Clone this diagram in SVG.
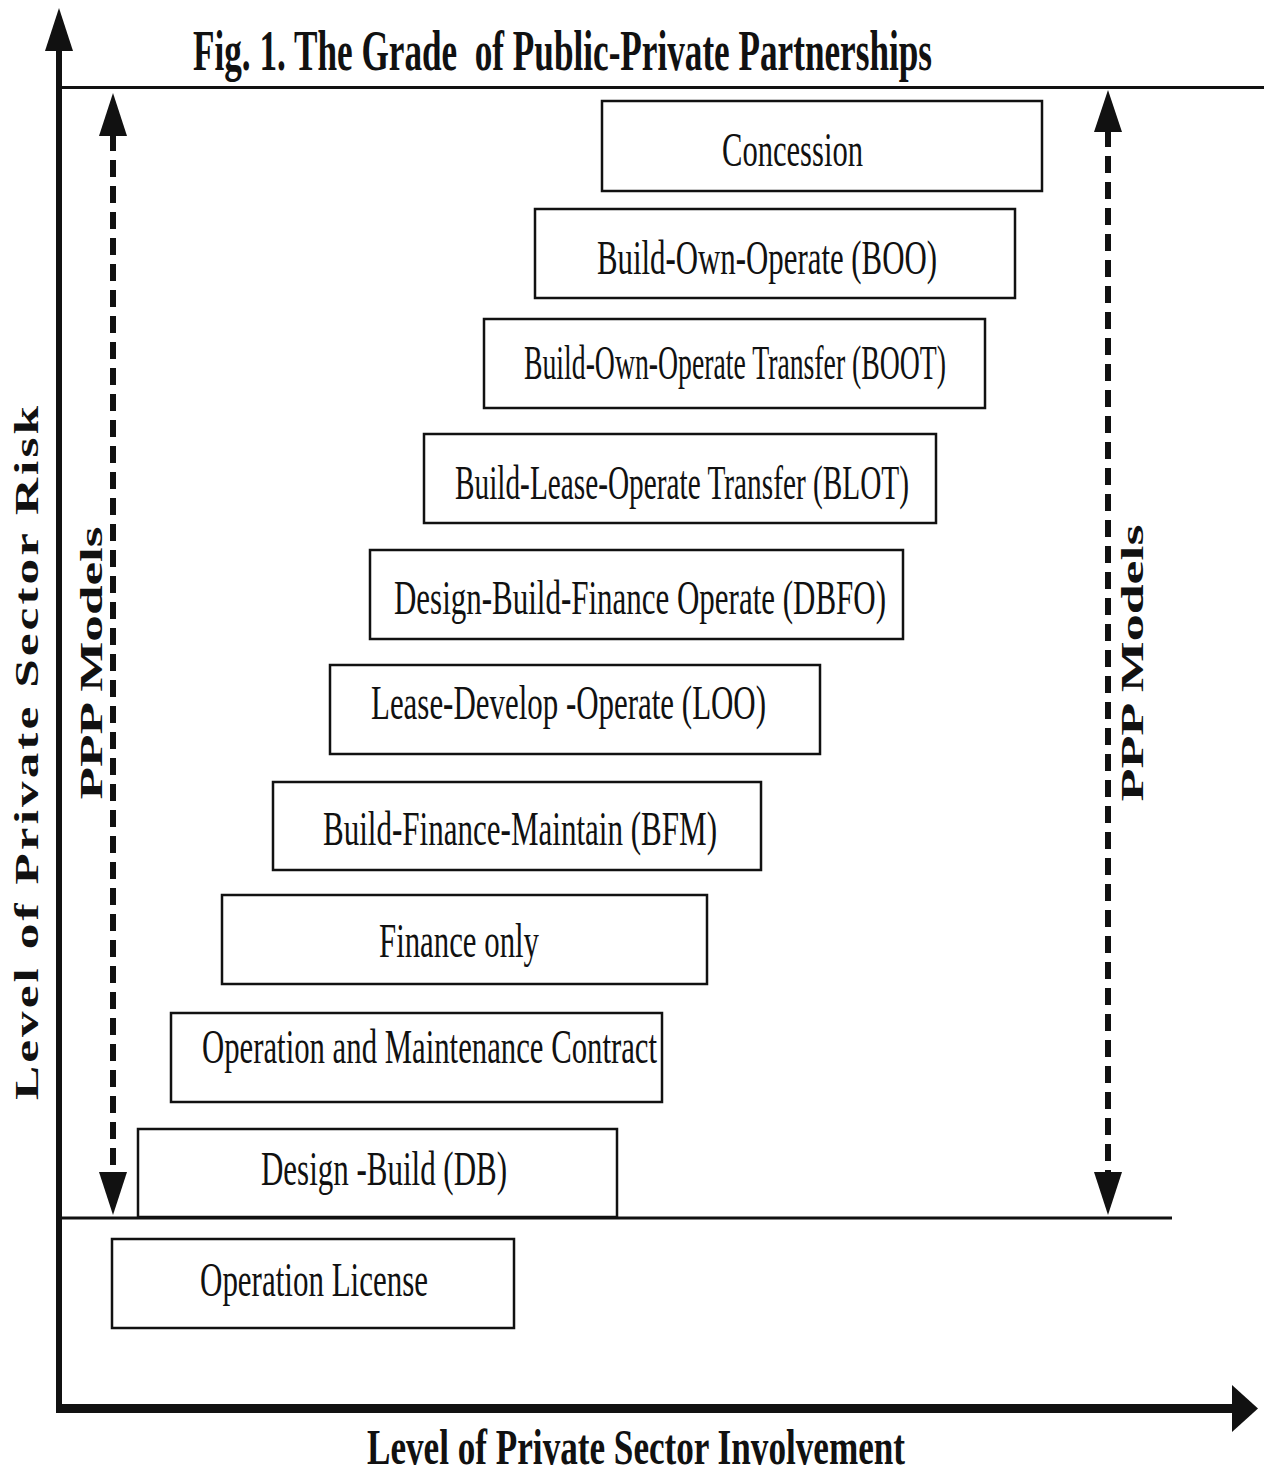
<svg xmlns="http://www.w3.org/2000/svg" width="1264" height="1475" viewBox="0 0 1264 1475">
  <style>
    .box { fill: #ffffff; stroke: #111111; stroke-width: 2.5; }
    .lbl { font-family: "Liberation Serif", "Times New Roman", serif; font-size: 48px; fill: #111111; }
    .bold { font-family: "Liberation Serif", "Times New Roman", serif; font-weight: bold; fill: #111111; }
    .axis { stroke: #111111; fill: none; }
    .dash { stroke: #111111; stroke-width: 6; stroke-dasharray: 17 9; fill: none; }
    .head { fill: #111111; }
  </style>
  <rect x="0" y="0" width="1264" height="1475" fill="#ffffff"/>

  <g id="connectors">
    <!-- Y axis -->
    <line class="axis" x1="59" y1="48" x2="59" y2="1413" stroke-width="6"/>
    <polygon class="head" points="59,8 45,51 73,51"/>
    <!-- X axis -->
    <line class="axis" x1="56" y1="1408.5" x2="1236" y2="1408.5" stroke-width="9"/>
    <polygon class="head" points="1258,1408.5 1232,1385 1232,1432"/>
    <!-- top and bottom boundary lines -->
    <line class="axis" x1="62" y1="87.5" x2="1264" y2="87.5" stroke-width="3"/>
    <line class="axis" x1="62" y1="1218" x2="1172" y2="1218" stroke-width="3"/>
    <!-- left dashed double arrow -->
    <line class="dash" x1="113" y1="134" x2="113" y2="1174"/>
    <polygon class="head" points="113,93 99,136 127,136"/>
    <polygon class="head" points="113,1215 99,1172 127,1172"/>
    <!-- right dashed double arrow -->
    <line class="dash" x1="1108" y1="130" x2="1108" y2="1174"/>
    <polygon class="head" points="1108,90 1094,132 1122,132"/>
    <polygon class="head" points="1108,1215 1094,1172 1122,1172"/>
  </g>

  <g id="title">
    <text class="bold" x="193" y="70" font-size="57" textLength="739" lengthAdjust="spacingAndGlyphs" style="white-space:pre">Fig. 1. The Grade  of Public-Private Partnerships</text>
  </g>

  <g id="y-axis-label">
    <text class="bold" font-size="33" text-anchor="middle" transform="translate(38,751.5) rotate(-90)" textLength="697" lengthAdjust="spacingAndGlyphs" letter-spacing="2">Level of Private Sector Risk</text>
  </g>
  <g id="x-axis-label">
    <text class="bold" x="367" y="1464" font-size="50" textLength="538" lengthAdjust="spacingAndGlyphs">Level of Private Sector Involvement</text>
  </g>
  <g id="ppp-left">
    <text class="bold" font-size="32" text-anchor="middle" transform="translate(102,663) rotate(-90)" textLength="273" lengthAdjust="spacingAndGlyphs">PPP Models</text>
  </g>
  <g id="ppp-right">
    <text class="bold" font-size="32" text-anchor="middle" transform="translate(1143,663) rotate(-90)" textLength="277" lengthAdjust="spacingAndGlyphs">PPP Models</text>
  </g>

  <g id="node-concession">
    <rect class="box" x="602" y="101" width="440" height="90"/>
    <text class="lbl" x="722" y="166" textLength="141" lengthAdjust="spacingAndGlyphs">Concession</text>
  </g>
  <g id="node-boo">
    <rect class="box" x="535" y="209" width="480" height="89"/>
    <text class="lbl" x="597" y="274" textLength="340" lengthAdjust="spacingAndGlyphs">Build-Own-Operate (BOO)</text>
  </g>
  <g id="node-boot">
    <rect class="box" x="484" y="319" width="501" height="89"/>
    <text class="lbl" x="524" y="379" textLength="422" lengthAdjust="spacingAndGlyphs">Build-Own-Operate Transfer (BOOT)</text>
  </g>
  <g id="node-blot">
    <rect class="box" x="424" y="434" width="512" height="89"/>
    <text class="lbl" x="455" y="499" textLength="454" lengthAdjust="spacingAndGlyphs">Build-Lease-Operate Transfer (BLOT)</text>
  </g>
  <g id="node-dbfo">
    <rect class="box" x="370" y="550" width="533" height="89"/>
    <text class="lbl" x="394" y="614" textLength="492" lengthAdjust="spacingAndGlyphs">Design-Build-Finance Operate (DBFO)</text>
  </g>
  <g id="node-loo">
    <rect class="box" x="330" y="665" width="490" height="89"/>
    <text class="lbl" x="371" y="719" textLength="395" lengthAdjust="spacingAndGlyphs">Lease-Develop -Operate (LOO)</text>
  </g>
  <g id="node-bfm">
    <rect class="box" x="273" y="782" width="488" height="88"/>
    <text class="lbl" x="323" y="845" textLength="394" lengthAdjust="spacingAndGlyphs">Build-Finance-Maintain (BFM)</text>
  </g>
  <g id="node-finance">
    <rect class="box" x="222" y="895" width="485" height="89"/>
    <text class="lbl" x="379" y="957" textLength="160" lengthAdjust="spacingAndGlyphs">Finance only</text>
  </g>
  <g id="node-om">
    <rect class="box" x="171" y="1013" width="491" height="89"/>
    <text class="lbl" x="202" y="1063" textLength="455" lengthAdjust="spacingAndGlyphs">Operation and Maintenance Contract</text>
  </g>
  <g id="node-db">
    <rect class="box" x="138" y="1129" width="479" height="88"/>
    <text class="lbl" x="261" y="1185" textLength="246" lengthAdjust="spacingAndGlyphs">Design -Build (DB)</text>
  </g>
  <g id="node-license">
    <rect class="box" x="112" y="1239" width="402" height="89"/>
    <text class="lbl" x="200" y="1296" textLength="228" lengthAdjust="spacingAndGlyphs">Operation License</text>
  </g>
</svg>
